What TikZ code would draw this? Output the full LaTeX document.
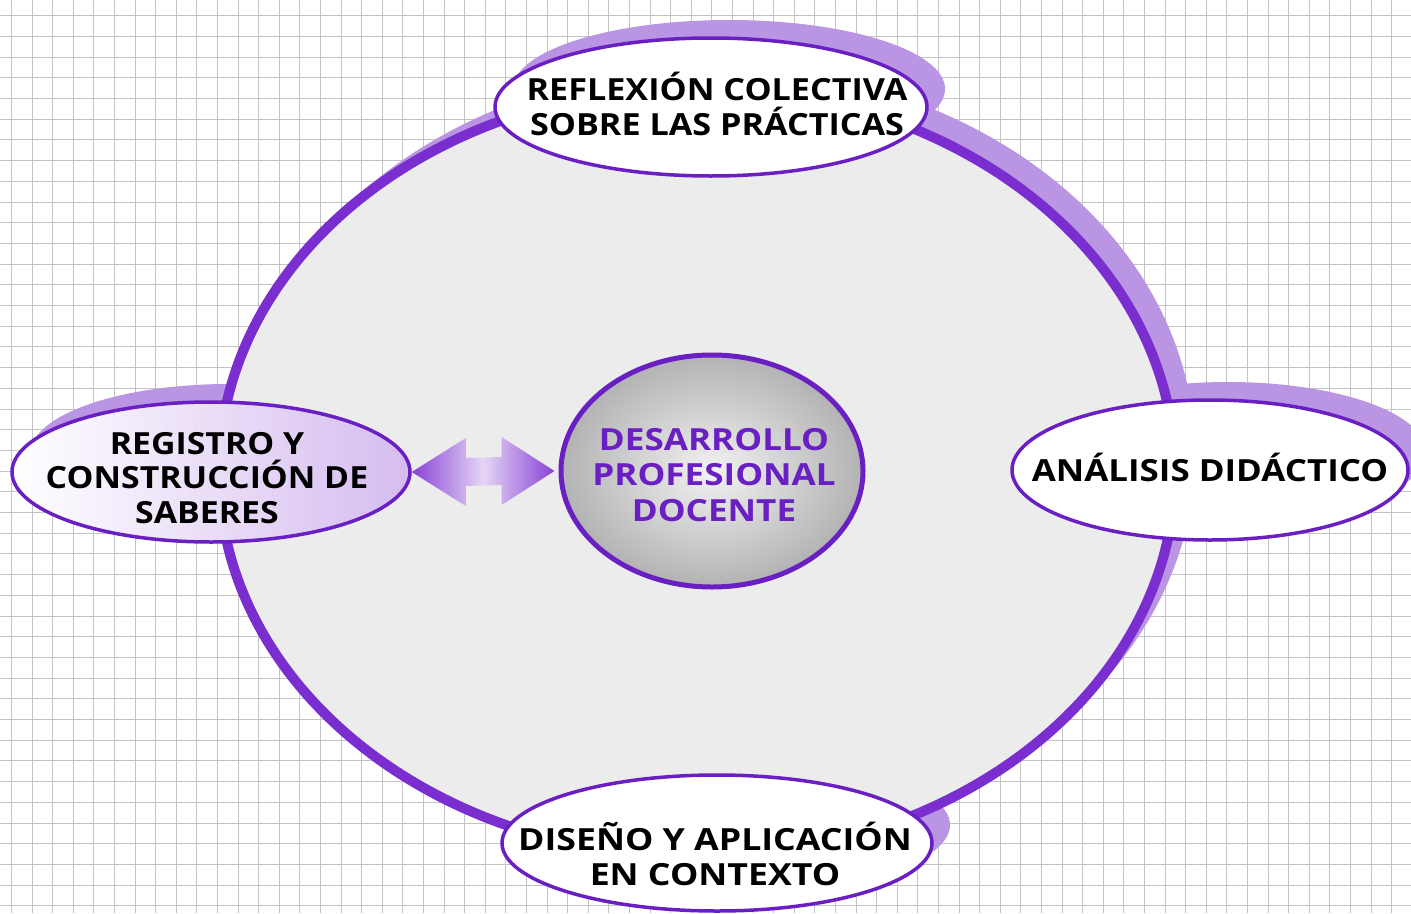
\documentclass[tikz,border=0pt]{standalone}
\usepackage{fontspec}
\usepackage{graphicx}
\setmainfont{Open Sans}
\usetikzlibrary{calc,shapes.geometric}
\definecolor{pD}{HTML}{6A1FC3}
\definecolor{ringc}{HTML}{7A2ECF}
\definecolor{lav}{HTML}{B995E3}
\definecolor{lavL}{HTML}{D5BCEF}
\definecolor{bgc}{HTML}{ECECEC}
\definecolor{gridc}{HTML}{C4C4C4}
\definecolor{arrE}{HTML}{8A42D6}
\definecolor{arrM}{HTML}{E4D6F5}
\newcommand\hsx[2]{\scalebox{#1}[1]{#2}}
\tikzset{
  lab/.style={ellipse, draw=pD, line width=3.5pt, fill=white, inner sep=0pt},
  labtext/.style={font=\fontsize{30.5}{34.5}\selectfont\bfseries, align=center, text=black, inner sep=0pt},
  coretext/.style={font=\fontsize{30.5}{35.5}\selectfont\bfseries, align=center, text=pD, inner sep=0pt},
  gridline/.style={gridc, line width=0.9pt},
  shadowfill/.style={fill=lav}
}
\begin{document}
\begin{tikzpicture}[x=1pt,y=-1pt]
\useasboundingbox (0,0) rectangle (1411,913);
\fill[white] (0,0) rectangle (1411,913);
\foreach \i in {0,...,68} \draw[gridline] ({11.5+20.6*\i},0) -- ({11.5+20.6*\i},913);
\foreach \j in {0,...,44} \draw[gridline] (0,{15.7+20.7*\j}) -- (1411,{15.7+20.7*\j});

\coordinate (pT) at (711,107);
\coordinate (pL) at (211,472);
\coordinate (pR) at (1210,470);
\coordinate (pB) at (717,843);
\coordinate (pC) at (712,471);
\coordinate (pO) at (697,472);

% shadows of the small ellipses
\fill[shadowfill] ($(pT)+(18,-18)$) ellipse [x radius=216, y radius=69];
\fill[shadowfill] ($(pL)+(18,-18)$) ellipse [x radius=199, y radius=70];
\fill[shadowfill] ($(pR)+(18,-18)$) ellipse [x radius=198, y radius=70];
\fill[shadowfill] ($(pB)+(18,-18)$) ellipse [x radius=215, y radius=68];

% big ellipse with its shadow
\fill[shadowfill] ($(pO)+(18,-18)$) ellipse [x radius=480, y radius=387];
\node[ellipse, minimum width=956pt, minimum height=770pt, fill=bgc, draw=ringc, line width=10pt, inner sep=0pt] (big) at (pO) {};

% label ellipses
\node[lab, minimum width=432pt, minimum height=138pt] (top) at (pT) {};
\node[lab, minimum width=398pt, minimum height=140pt, left color=white, right color=lavL] (left) at (pL) {};
\node[lab, minimum width=396pt, minimum height=140pt] (right) at (pR) {};
\node[lab, minimum width=430pt, minimum height=136pt] (bottom) at (pB) {};
\node[ellipse, draw=pD, line width=5pt, inner color=gray!10, outer color=gray!60, minimum width=302pt, minimum height=232pt, inner sep=0pt] (core) at (pC) {};

% double arrow
\coordinate (a) at (left.east);
\coordinate (b) at ($(core.west)+(-4,0)$);
\shade[left color=arrE, right color=arrE, middle color=arrM]
  (a) -- ($(a)+(54,-34)$) -- ($(a)+(54,-14)$) -- ($(b)+(-53,-14)$) -- ($(b)+(-53,-34)$)
  -- (b) -- ($(b)+(-53,34)$) -- ($(b)+(-53,14)$) -- ($(a)+(54,14)$) -- ($(a)+(54,34)$) -- cycle;

% texts
\node[labtext] (toptext) at (717,104) {\hsx{1.12}{REFLEXIÓN COLECTIVA}\\\hsx{1.12}{SOBRE LAS PRÁCTICAS}};
\node[labtext] (lefttext) at (207,478) {\hsx{1.11}{REGISTRO Y}\\\hsx{1.11}{CONSTRUCCIÓN DE}\\\hsx{1.11}{SABERES}};
\node[labtext] (righttext) at (1210,467) {\hsx{1.145}{ANÁLISIS DIDÁCTICO}};
\node[labtext] (bottomtext) at (715,854) {\hsx{1.17}{DISEÑO Y APLICACIÓN}\\\hsx{1.17}{EN CONTEXTO}};
\node[coretext] (coretxt) at (714,475) {\hsx{1.15}{DESARROLLO}\\\hsx{1.15}{PROFESIONAL}\\\hsx{1.15}{DOCENTE}};
\end{tikzpicture}
\end{document}
